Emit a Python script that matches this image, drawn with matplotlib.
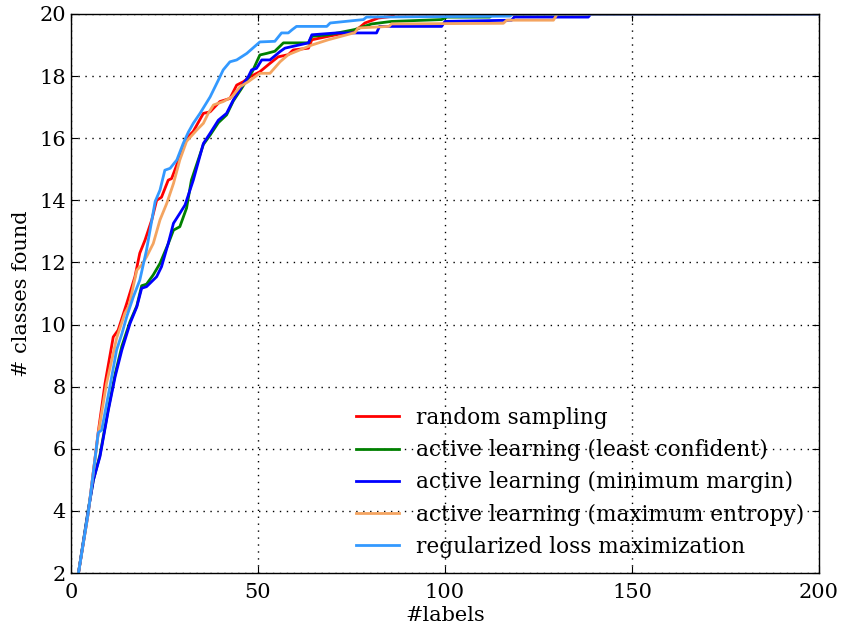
import matplotlib
matplotlib.use("Agg")
import matplotlib.pyplot as plt

plt.rcParams["font.family"] = ["DejaVu Serif"]
plt.rcParams["mathtext.fontset"] = "dejavuserif"

# number of labelled samples vs. number of distinct classes discovered
rand_x = [2, 4.6, 7.3, 9.1, 11.3, 12.6, 14.9, 17.1, 18.4, 19.8, 21.6, 22.9, 24.2, 26, 26.9,
          29.1, 30.9, 32.7, 35.4, 37.2, 39.8, 42.5, 44.3, 46.1, 47.9, 50.5, 53.2, 55.4,
          58.1, 59.4, 63.5, 64.4, 68.8, 75.9, 77.5, 78.6, 82.2, 85.7, 86.5, 200]
rand_y = [2, 3.92, 6.55, 8.1, 9.6, 9.82, 10.68, 11.54, 12.3, 12.72, 13.37, 14.0, 14.1, 14.65, 14.7,
          15.4, 16.0, 16.22, 16.8, 16.85, 17.18, 17.28, 17.71, 17.82, 17.98, 18.14, 18.41, 18.62,
          18.69, 18.84, 18.9, 19.17, 19.28, 19.45, 19.6, 19.71, 19.87, 19.92, 20, 20]

lc_x = [2, 4.6, 6.0, 7.75, 10, 11.8, 13.6, 15.8, 17.6, 18.9, 20.2, 22, 23.8, 26, 27.4, 29.1,
        30.9, 32.2, 35.4, 37.2, 39.4, 41.6, 43.4, 45.6, 47.4, 48.5, 50.5, 52.3, 54.5, 56.8,
        63.5, 64.4, 68.8, 75.9, 80.4, 85.7, 99.1, 100.5, 112, 112.8, 200]
lc_y = [2, 4.03, 5.0, 5.8, 7.3, 8.4, 9.3, 10.1, 10.6, 11.25, 11.3, 11.6, 11.97, 12.6, 13.04, 13.15,
        13.75, 14.65, 15.8, 16.1, 16.5, 16.75, 17.2, 17.6, 17.95, 18.15, 18.68, 18.73, 18.8, 19.07,
        19.07, 19.28, 19.33, 19.5, 19.68, 19.76, 19.82, 19.9, 19.9, 20, 20]

mm_x = [2, 4.6, 6.0, 7.75, 10, 11.8, 13.6, 15.8, 17.6, 18.9, 20.2, 22.9, 24.2, 26, 27.4, 29.1,
        30.5, 32.7, 35.4, 37.2, 39.4, 41.6, 43.4, 45.6, 47.4, 48.3, 49.6, 51, 53.2, 55.9, 57.2,
        63.5, 64.4, 71, 81.7, 82.5, 99.1, 100, 117.8, 118.5, 138.3, 139, 200]
mm_y = [2, 4.0, 5.0, 5.75, 7.25, 8.32, 9.18, 10.04, 10.57, 11.17, 11.22, 11.54, 11.86, 12.61, 13.26, 13.58,
        13.85, 14.65, 15.83, 16.16, 16.58, 16.8, 17.23, 17.66, 17.98, 18.2, 18.25, 18.52, 18.52, 18.79, 18.9,
        19.07, 19.33, 19.39, 19.39, 19.6, 19.6, 19.76, 19.8, 19.9, 19.9, 20, 20]

me_x = [2, 4.6, 7.3, 9.5, 12.2, 14.4, 15.5, 17.6, 18.9, 20.2, 22, 23.8, 25.6, 27.4, 29.1, 30.9,
        33.6, 35.4, 36.7, 38.1, 40.7, 43, 45.2, 47.4, 50.5, 53.2, 55.9, 58.1, 64.4, 68.8, 75.9,
        76.8, 85, 85.7, 115.6, 116.5, 129, 130, 200]
me_y = [2, 3.92, 6.5, 8.1, 9.56, 10.36, 10.6, 11.75, 11.92, 12.18, 12.61, 13.37, 13.9, 14.54, 15.3, 15.9,
        16.26, 16.48, 16.8, 17.07, 17.18, 17.33, 17.66, 17.82, 18.09, 18.09, 18.46, 18.69, 19.0, 19.17, 19.4,
        19.55, 19.6, 19.68, 19.7, 19.8, 19.8, 20, 20]

rl_x = [2, 4.6, 7.3, 8.2, 10.4, 12.2, 13.6, 14.9, 16.7, 18.4, 20.2, 22.5, 23.8, 25.1, 26.5, 28.3,
        30.0, 31.4, 32.7, 34.5, 37.2, 39.4, 40.7, 42.5, 44.3, 47, 50.5, 54.5, 56.3, 58.1, 59.2,
        60.3, 68.4, 69.3, 78.2, 79, 117.4, 118, 200]
rl_y = [2, 3.92, 6.52, 6.6, 8.0, 9.18, 9.7, 10.25, 10.9, 11.43, 12.4, 13.96, 14.33, 14.97, 15.03, 15.3,
        15.83, 16.2, 16.48, 16.8, 17.33, 17.87, 18.2, 18.46, 18.52, 18.73, 19.1, 19.12, 19.39, 19.39, 19.5,
        19.6, 19.6, 19.71, 19.82, 19.9, 19.93, 20, 20]

series = [
    ("random sampling", rand_x, rand_y, "#ff0000"),
    ("active learning (least confident)", lc_x, lc_y, "#008000"),
    ("active learning (minimum margin)", mm_x, mm_y, "#0000ff"),
    ("active learning (maximum entropy)", me_x, me_y, "#f4a460"),
    ("regularized loss maximization", rl_x, rl_y, "#3399ff"),
]

fig = plt.figure(figsize=(8.44, 6.27), dpi=100, facecolor="white")
ax = fig.add_axes([0.0841, 0.0861, 0.8863, 0.8916])

for name, xs, ys, col in series:
    ax.plot(xs, ys, color=col, lw=2, label=name)

ax.set_xlim(0, 200)
ax.set_ylim(2, 20)
ax.set_xticks([0, 50, 100, 150, 200])
ax.set_yticks(range(2, 21, 2))
ax.grid(True, color="black", linestyle=(0, (1, 4)), linewidth=1.0)
ax.tick_params(direction="in", top=True, right=True, length=5, labelsize=15)
ax.tick_params(axis="x", pad=7)
for sp in ax.spines.values():
    sp.set_linewidth(1.0)

ax.set_xlabel("#labels", fontsize=15, labelpad=3)
ax.set_ylabel("# classes found", fontsize=15, labelpad=6)

ax.legend(loc="lower right", frameon=False, fontsize=15.6, handlelength=2.0,
          handletextpad=0.75, labelspacing=0.47, borderaxespad=0.3,
          bbox_to_anchor=(1.0, 0.0))

fig.savefig("out.png", dpi=100, facecolor="white")
